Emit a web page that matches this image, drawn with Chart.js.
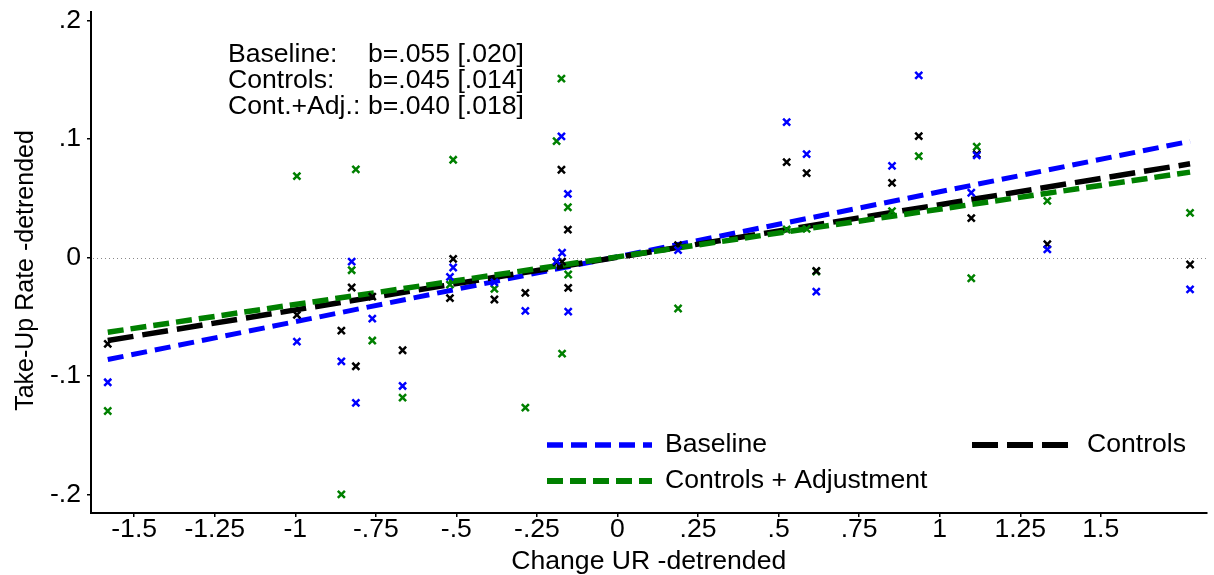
<!DOCTYPE html>
<html><head><meta charset="utf-8">
<script src="https://cdn.jsdelivr.net/npm/chart.js@4/dist/chart.umd.min.js"></script>
<style>html,body{margin:0;padding:0;background:#fff;} #wrap{width:1214px;height:575px;position:relative;}</style>
</head><body><div id="wrap"><canvas id="c"></canvas></div>
<script>
const changeUR = [-1.582, -0.995, -0.857, -0.825, -0.812, -0.761, -0.667, -0.520, -0.510, -0.382, -0.286, -0.189, -0.174, -0.172, -0.154, -0.153, 0.188, 0.525, 0.587, 0.617, 0.852, 0.935, 1.098, 1.115, 1.334, 1.777];
const takeUpBaseline = [-0.1052, -0.0709, -0.0875, -0.0034, -0.1226, -0.0515, -0.1083, -0.0163, -0.0084, -0.0210, -0.0450, -0.0030, 0.1021, 0.0040, 0.0536, -0.0456, 0.0062, 0.1142, 0.0872, -0.0287, 0.0772, 0.1536, 0.0546, 0.0861, 0.0068, -0.0268];
const takeUpControls = [-0.0728, -0.0484, -0.0616, -0.0253, -0.0917, -0.0330, -0.0782, -0.0343, -0.0011, -0.0354, -0.0298, -0.0040, 0.0740, -0.0034, 0.0235, -0.0256, 0.0104, 0.0804, 0.0711, -0.0112, 0.0630, 0.1024, 0.0332, 0.0872, 0.0112, -0.0059];
const takeUpAdjusted = [-0.1294, 0.0686, -0.1997, -0.0107, 0.0743, -0.0700, -0.1181, -0.0228, 0.0824, -0.0264, -0.1266, 0.0981, 0.1508, -0.0810, 0.0424, -0.0143, -0.0430, 0.0236, 0.0242, -0.0118, 0.0391, 0.0855, -0.0175, 0.0934, 0.0478, 0.0377];
const fitX = [-1.582, 1.777];
const fitBaseline = [-0.086, 0.098];
const fitControls = [-0.070, 0.079];
const fitAdjusted = [-0.063, 0.072];
const xTickValues = [-1.5, -1.25, -1, -0.75, -0.5, -0.25, 0, 0.25, 0.5, 0.75, 1, 1.25, 1.5];
const xTickLabels = ['-1.5', '-1.25', '-1', '-.75', '-.5', '-.25', '0', '.25', '.5', '.75', '1', '1.25', '1.5'];
const yTickValues = [-0.2, -0.1, 0, 0.1, 0.2];
const yTickLabels = ['-.2', '-.1', '0', '.1', '.2'];
const seriesNames = ['Baseline', 'Controls', 'Controls + Adjustment'];
const annotationLabels = ['Baseline:', 'Controls:', 'Cont.+Adj.:'];
const annotationValues = ['b=.055 [.020]', 'b=.045 [.014]', 'b=.040 [.018]'];
const xTitle = 'Change UR -detrended';
const yTitle = 'Take-Up Rate -detrended';

const BLUE = '#0000ff', BLACK = '#000000', GREEN = '#008000';
const FONT = '"Liberation Sans", Arial, sans-serif';
const FS = 26.6;

const pts = (ys) => changeUR.map((x, i) => ({x: x, y: ys[i]}));
const fit = (ys) => fitX.map((x, i) => ({x: x, y: ys[i]}));

const lineStyles = [
  {color: BLUE, dash: [16, 8], width: 5},
  {color: BLACK, dash: [26, 9], width: 5.5},
  {color: GREEN, dash: [16, 7], width: 5.5}
];

const refLinePlugin = {
  id: 'refLine',
  beforeDatasetsDraw(chart) {
    const {ctx, chartArea, scales} = chart;
    const y = Math.round(scales.y.getPixelForValue(0)) + 0.5;
    ctx.save();
    ctx.strokeStyle = '#888';
    ctx.lineWidth = 1;
    ctx.setLineDash([1, 3]);
    ctx.beginPath();
    ctx.moveTo(chartArea.left + 2, y);
    ctx.lineTo(chartArea.right, y);
    ctx.stroke();
    ctx.restore();
  }
};

const overlayPlugin = {
  id: 'overlay',
  afterDraw(chart) {
    const {ctx, chartArea} = chart;
    const L = chartArea.left, T = chartArea.top;
    ctx.save();
    ctx.fillStyle = '#000';
    ctx.font = FS + 'px ' + FONT;
    ctx.textBaseline = 'middle';
    ctx.textAlign = 'left';
    for (let i = 0; i < annotationLabels.length; i++) {
      const yy = T + 43 + i * 26;
      ctx.fillText(annotationLabels[i], L + 137, yy);
      ctx.fillText(annotationValues[i], L + 277, yy);
    }
    const entries = [
      {x: L + 456, y: T + 433, s: lineStyles[0], t: seriesNames[0], tx: 118},
      {x: L + 881, y: T + 433, s: lineStyles[1], t: seriesNames[1], tx: 115},
      {x: L + 456, y: T + 469, s: lineStyles[2], t: seriesNames[2], tx: 118}
    ];
    entries.forEach(e => {
      ctx.save();
      ctx.strokeStyle = e.s.color;
      ctx.lineWidth = e.s.width + 0.5;
      ctx.setLineDash(e.s.dash);
      ctx.beginPath();
      ctx.moveTo(e.x, e.y);
      ctx.lineTo(e.x + 105, e.y);
      ctx.stroke();
      ctx.restore();
      ctx.fillStyle = '#000';
      ctx.fillText(e.t, e.x + e.tx, e.y);
    });
    // y axis title
    ctx.save();
    ctx.font = '25px ' + FONT;
    ctx.textAlign = 'center';
    ctx.textBaseline = 'middle';
    ctx.translate(26, (chartArea.top + chartArea.bottom) / 2 + 8);
    ctx.rotate(-Math.PI / 2);
    ctx.fillText(yTitle, 0, 0);
    ctx.restore();
    ctx.restore();
  }
};

const scatterDs = (label, ys, color, order) => ({
  type: 'scatter', label: label, data: pts(ys),
  pointStyle: 'crossRot', pointRadius: 5, pointHoverRadius: 5,
  borderColor: color, backgroundColor: color, pointBorderWidth: 2.5, order: order
});
const fitDs = (label, ys, st, order) => ({
  type: 'line', label: label, data: fit(ys), showLine: true,
  borderColor: st.color, borderWidth: st.width, borderDash: st.dash,
  pointRadius: 0, fill: false, tension: 0, order: order, borderCapStyle: 'butt'
});

new Chart(document.getElementById('c'), {
  data: {
    datasets: [
      scatterDs(seriesNames[0], takeUpBaseline, BLUE, 1),
      scatterDs(seriesNames[1], takeUpControls, BLACK, 2),
      scatterDs(seriesNames[2], takeUpAdjusted, GREEN, 3),
      fitDs(seriesNames[2] + ' fit', fitAdjusted, lineStyles[2], 4),
      fitDs(seriesNames[1] + ' fit', fitControls, lineStyles[1], 5),
      fitDs(seriesNames[0] + ' fit', fitBaseline, lineStyles[0], 6)
    ]
  },
  options: {
    responsive: true,
    maintainAspectRatio: false,
    animation: false,
    layout: {padding: {top: 12, right: 4, left: 0, bottom: 0}},
    plugins: {legend: {display: false}, tooltip: {enabled: false}},
    scales: {
      x: {
        type: 'linear', position: 'bottom', min: -1.634, max: 1.828,
        afterBuildTicks: (s) => { s.ticks = xTickValues.map(v => ({value: v})); },
        afterFit: (s) => { s.height = 62; s.paddingLeft = 0; s.paddingRight = 0; },
        ticks: {
          color: '#000', font: {family: FONT, size: FS}, padding: -3, maxRotation: 0, autoSkip: false,
          callback: (v) => { const i = xTickValues.findIndex(t => Math.abs(t - v) < 1e-9); return i >= 0 ? xTickLabels[i] : ''; }
        },
        grid: {drawOnChartArea: false, drawTicks: true, tickLength: 4, color: '#000', lineWidth: 1.5},
        border: {display: true, color: '#000', width: 2},
        title: {display: true, text: xTitle, color: '#000', font: {family: FONT, size: FS, lineHeight: 1.0}, padding: {top: 0, bottom: 0}}
      },
      y: {
        type: 'linear', position: 'left', min: -0.2154, max: 0.207,
        afterBuildTicks: (s) => { s.ticks = yTickValues.map(v => ({value: v})); },
        afterFit: (s) => { s.width = 91; s.paddingTop = 0; s.paddingBottom = 0; },
        ticks: {
          color: '#000', font: {family: FONT, size: FS}, padding: 6, autoSkip: false,
          callback: (v) => { const i = yTickValues.findIndex(t => Math.abs(t - v) < 1e-9); return i >= 0 ? yTickLabels[i] : ''; }
        },
        grid: {drawOnChartArea: false, drawTicks: true, tickLength: 4, color: '#000', lineWidth: 1.5},
        border: {display: true, color: '#000', width: 2},
        title: {display: false, text: yTitle}
      }
    }
  },
  plugins: [refLinePlugin, overlayPlugin]
});
</script>
</body></html>
